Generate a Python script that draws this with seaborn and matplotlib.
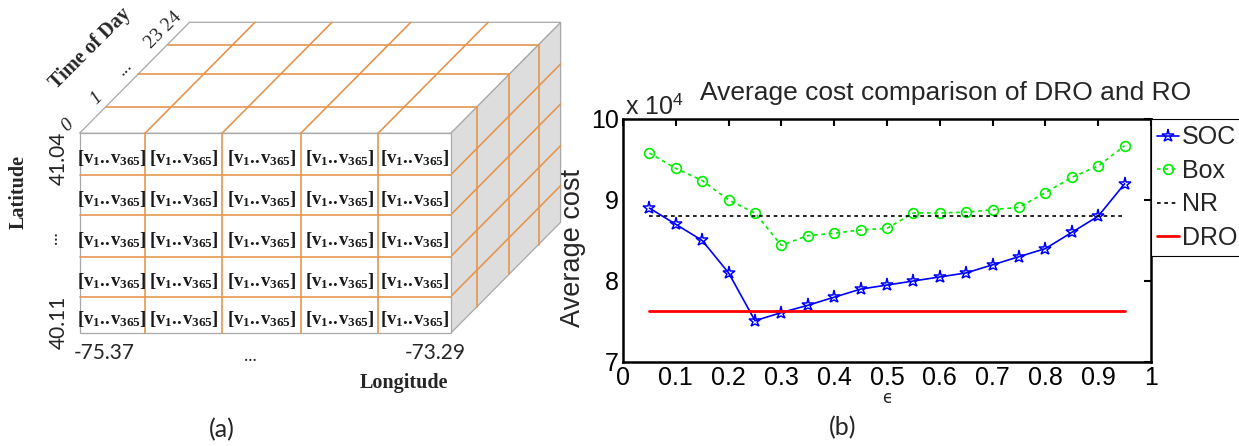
import numpy as np
import pandas as pd
import matplotlib
matplotlib.use("Agg")
import matplotlib.pyplot as plt
import seaborn as sns
from matplotlib.patches import Polygon

# ---------------- data (panel b) ----------------
eps = [0.05, 0.10, 0.15, 0.20, 0.25, 0.30, 0.35, 0.40, 0.45, 0.50,
       0.55, 0.60, 0.65, 0.70, 0.75, 0.80, 0.85, 0.90, 0.95]
soc = [8.90, 8.70, 8.50, 8.10, 7.51, 7.61, 7.70, 7.80, 7.90, 7.95,
       8.00, 8.05, 8.10, 8.20, 8.30, 8.40, 8.60, 8.80, 9.20]
box = [9.58, 9.39, 9.24, 9.00, 8.84, 8.44, 8.56, 8.59, 8.63, 8.65,
       8.84, 8.84, 8.85, 8.88, 8.91, 9.09, 9.28, 9.42, 9.67]
eps_ends = [0.05, 0.95]
nr = [8.80, 8.80]
dro = [7.63, 7.63]
xtick_vals = [0, 0.1, 0.2, 0.3, 0.4, 0.5, 0.6, 0.7, 0.8, 0.9, 1.0]
xtick_labels = ["0", "0.1", "0.2", "0.3", "0.4", "0.5", "0.6", "0.7", "0.8", "0.9", "1"]
ytick_vals = [7, 8, 9, 10]
ytick_labels = ["7", "8", "9", "10"]

# ---------------- data (panel a) ----------------
lat_labels = ["41.04", "...", "40.11"]
lon_labels = ["-75.37", "...", "-73.29"]
time_labels = ["0", "1", "...", "23 24"]
cell_text = r"$\mathbf{[v_{1}.\!.\!v_{365}]}$"
n_rows, n_cols = 5, 5

sns.set_style("white")
plt.rcParams['font.family'] = ['Liberation Sans', 'DejaVu Sans']
plt.rcParams['mathtext.fontset'] = 'custom'
plt.rcParams['mathtext.rm'] = 'Liberation Sans'
plt.rcParams['mathtext.bf'] = 'Liberation Serif:bold'
plt.rcParams['mathtext.it'] = 'Liberation Serif:italic'

W, H = 1239, 446
fig = plt.figure(figsize=(W / 100, H / 100), dpi=100)

# ---------------- panel (a): cube diagram in pixel coordinates ----------------
bg = fig.add_axes([0, 0, 1, 1])
bg.set_xlim(0, W)
bg.set_ylim(H, 0)
bg.axis('off')

orange = '#e4964f'
edge = '#a8a8a8'
fx0, fx1, fy0, fy1 = 79.5, 450.6, 133.3, 333.3
dx, dy = 110.0, -111.0
col_edges = [fx0, 145.0, 222.0, 300.8, 378.1, fx1]
row_edges = [fy0, 175.0, 215.0, 256.7, 296.7, fy1]
depth_fr = [0.0, 0.24, 0.53, 0.80, 1.0]

# faces
bg.add_patch(Polygon([(fx1, fy0), (fx1 + dx, fy0 + dy), (fx1 + dx, fy1 + dy), (fx1, fy1)],
                     closed=True, facecolor='#dddddd', edgecolor=edge, lw=0.9, zorder=1))
bg.add_patch(Polygon([(fx0, fy0), (fx0 + dx, fy0 + dy), (fx1 + dx, fy0 + dy), (fx1, fy0)],
                     closed=True, facecolor='white', edgecolor=edge, lw=0.9, zorder=1))
bg.add_patch(Polygon([(fx0, fy0), (fx1, fy0), (fx1, fy1), (fx0, fy1)],
                     closed=True, facecolor='white', edgecolor=edge, lw=0.9, zorder=3))

# orange grid lines: front face
for cx in col_edges[1:-1]:
    bg.plot([cx, cx], [fy0, fy1], color=orange, lw=1.2, zorder=4)
for ry in row_edges[1:-1]:
    bg.plot([fx0, fx1], [ry, ry], color=orange, lw=1.2, zorder=4)
# top face depth lines, right face verticals, diagonals
for f in depth_fr[1:-1]:
    bg.plot([fx0 + dx * f, fx1 + dx * f], [fy0 + dy * f, fy0 + dy * f], color=orange, lw=1.2, zorder=2)
    bg.plot([fx1 + dx * f, fx1 + dx * f], [fy0 + dy * f, fy1 + dy * f], color=orange, lw=1.2, zorder=2)
for cx in col_edges[1:-1]:
    bg.plot([cx, cx + dx], [fy0, fy0 + dy], color=orange, lw=1.2, zorder=2)
for ry in row_edges[1:-1]:
    bg.plot([fx1, fx1 + dx], [ry, ry + dy], color=orange, lw=1.2, zorder=2)

# cell texts
for i in range(n_rows):
    for j in range(n_cols):
        cx = (col_edges[j] + col_edges[j + 1]) / 2
        cy = (row_edges[i] + row_edges[i + 1]) / 2 + 4
        bg.text(cx, cy, cell_text, ha='center', va='center', fontsize=13.5, color='#1a1a1a', zorder=5)

sans_a = ['Lato', 'DejaVu Sans']
serif_a = ['Liberation Serif', 'DejaVu Serif']
# latitude
bg.text(59, 158, lat_labels[0], rotation=90, ha='center', va='center', fontsize=15, family=sans_a)
bg.text(52, 238, lat_labels[1], rotation=90, ha='center', va='center', fontsize=13, family=sans_a)
bg.text(59, 322, lat_labels[2], rotation=90, ha='center', va='center', fontsize=15, family=sans_a)
bg.text(19, 192, "Latitude", rotation=90, ha='center', va='center', fontsize=14.5,
        fontweight='bold', family=serif_a)
# longitude
bg.text(104, 353, lon_labels[0], ha='center', va='center', fontsize=15, family=sans_a)
bg.text(250, 356, lon_labels[1], ha='center', va='center', fontsize=13, family=sans_a)
bg.text(435, 353, lon_labels[2], ha='center', va='center', fontsize=15, family=sans_a)
bg.text(404, 383, "Longitude", ha='center', va='center', fontsize=14.5,
        fontweight='bold', family=serif_a)
# time of day
time_pos = [(68, 125), (97, 98), (125, 68), (163, 30)]
time_style = ['italic', 'italic', 'normal', 'normal']
for lab, (tx, ty), st in zip(time_labels, time_pos, time_style):
    bg.text(tx, ty, lab, rotation=45, ha='center', va='center', fontsize=14,
            style=st, family=serif_a, rotation_mode='anchor')
bg.text(90, 48, "Time of Day", rotation=45, ha='center', va='center', fontsize=14.5,
        fontweight='bold', family=serif_a, rotation_mode='anchor')

bg.text(222, 430, "(a)", ha='center', va='center', fontsize=18, family=sans_a)
bg.text(843, 428, "(b)", ha='center', va='center', fontsize=18, family=sans_a)

# ---------------- panel (b): line chart ----------------
ax = fig.add_axes([623 / W, 1 - 362 / H, (1151 - 623) / W, (362 - 119) / H])
sns.lineplot(x=eps, y=soc, ax=ax, color='#0000ff', linewidth=1.2, marker='*',
             markersize=9.5, markerfacecolor='none', markeredgecolor='#0000ff',
             markeredgewidth=1.1, label='SOC')
sns.lineplot(x=eps, y=box, ax=ax, color='#00ee00', linewidth=1.2, linestyle=(0, (2.2, 2.2)),
             marker='o', markersize=7, markerfacecolor='none', markeredgecolor='#00ee00',
             markeredgewidth=1.2, label='Box')
sns.lineplot(x=eps_ends, y=nr, ax=ax, color='black', linewidth=1.2,
             linestyle=(0, (2.2, 2.2)), label='NR')
sns.lineplot(x=eps_ends, y=dro, ax=ax, color='#ff0000', linewidth=2.0, label='DRO')

ax.set_xlim(0, 1)
ax.set_ylim(7, 10)
ax.set_xticks(xtick_vals)
ax.set_xticklabels(xtick_labels)
ax.set_yticks(ytick_vals)
ax.set_yticklabels(ytick_labels)
ax.tick_params(direction='in', top=True, right=True, length=5, width=1.5,
               labelsize=18, pad=3, colors='black')
for s in ax.spines.values():
    s.set_visible(True)
    s.set_linewidth(1.8)
    s.set_color('black')
ax.set_ylabel("Average cost", fontsize=19.5)
ax.yaxis.set_label_coords(-0.07, 0.47)
ax.set_xlabel("\u03f5", fontsize=12, labelpad=-1, family=['DejaVu Sans'])
ax.set_title("Average cost comparison of DRO and RO", fontsize=19, pad=14, x=0.61)
ax.text(0.004, 1.022, r"x 10$^{4}$", transform=ax.transAxes, ha='left', va='baseline',
        fontsize=18)

leg = ax.legend(loc='upper left', bbox_to_anchor=(1.0, 1.0), borderaxespad=0,
                frameon=True, fancybox=False, edgecolor='black', fontsize=18,
                handlelength=0.85, handletextpad=0.12, borderpad=0.25, labelspacing=0.38,
                framealpha=1)
leg.get_frame().set_linewidth(0.8)

fig.savefig("out.png", dpi=100)
